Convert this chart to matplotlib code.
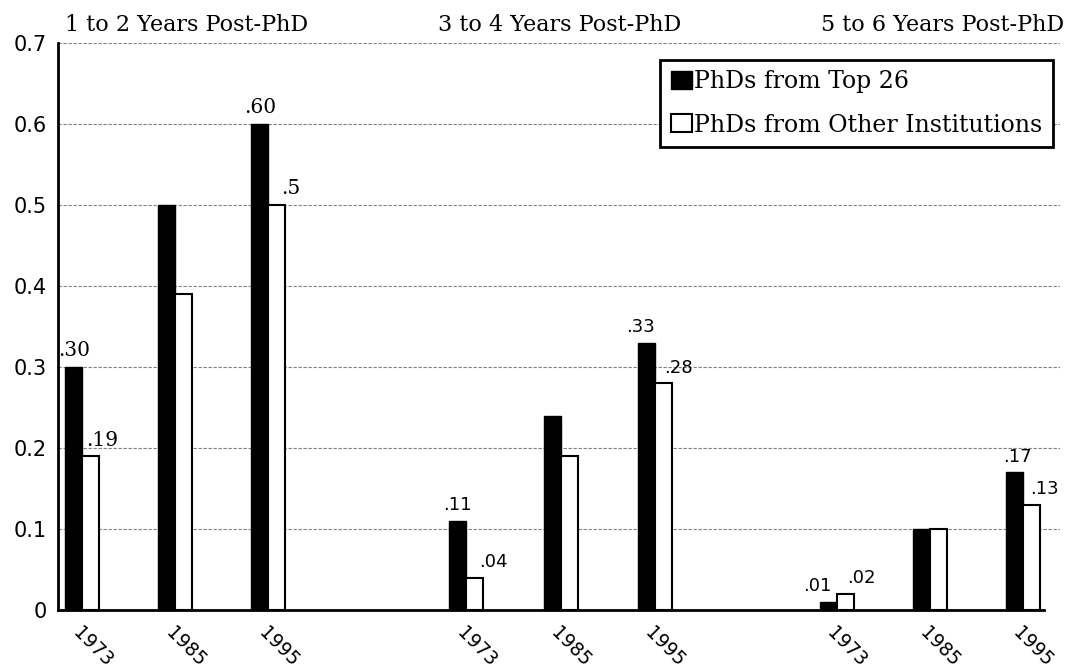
import matplotlib.pyplot as plt

# data
years = ["1973", "1985", "1995"] * 3
groups = ["1 to 2 Years Post-PhD", "3 to 4 Years Post-PhD", "5 to 6 Years Post-PhD"]
top26 = [0.30, 0.50, 0.60, 0.11, 0.24, 0.33, 0.01, 0.10, 0.17]
other = [0.19, 0.39, 0.50, 0.04, 0.19, 0.28, 0.02, 0.10, 0.13]
top26_labels = [".30", None, ".60", ".11", None, ".33", ".01", None, ".17"]
other_labels = [".19", None, ".5", ".04", None, ".28", ".02", None, ".13"]

# layout
pos = [0, 1, 2, 4.13, 5.15, 6.16, 8.12, 9.12, 10.12]
w = 0.18
serif = "DejaVu Serif"
sans = "DejaVu Sans"

fig = plt.figure(figsize=(10.81, 6.72), dpi=100)
ax = fig.add_axes([0.0537, 0.0923, 0.927, 0.844])

ax.bar([p - w / 2 for p in pos], top26, width=w, color="black",
       edgecolor="black", linewidth=1, zorder=3, label="PhDs from Top 26")
ax.bar([p + w / 2 for p in pos], other, width=w, color="white",
       edgecolor="black", linewidth=1.5, zorder=3,
       label="PhDs from Other Institutions")

# value labels (offsets per label, group 1 set in serif like the original)
top_dx = [0.0, 0, 0.0, 0.0, 0, -0.06, -0.12, 0, 0.03]
oth_dx = [0.13, 0, 0.15, 0.2, 0, 0.16, 0.17, 0, 0.14]
for i in range(len(pos)):
    fam = serif if i < 3 else sans
    fs = 14.5 if i < 3 else 13
    if top26_labels[i]:
        ax.text(pos[i] - w / 2 + top_dx[i], top26[i] + 0.008, top26_labels[i],
                ha="center", va="bottom", fontsize=fs, family=fam, zorder=4)
    if other_labels[i]:
        ax.text(pos[i] + w / 2 + oth_dx[i], other[i] + 0.008, other_labels[i],
                ha="center", va="bottom", fontsize=fs, family=fam, zorder=4)

ax.set_ylim(0, 0.7)
ax.set_xlim(-0.26, 10.52)
ax.set_yticks([0, 0.1, 0.2, 0.3, 0.4, 0.5, 0.6, 0.7])
ax.set_yticklabels(["0", "0.1", "0.2", "0.3", "0.4", "0.5", "0.6", "0.7"],
                   fontsize=15, family=sans)
ax.tick_params(axis="y", length=0, pad=8)
ax.set_xticks(pos)
ax.set_xticklabels(years, rotation=-45, ha="left", va="top",
                   rotation_mode="anchor", fontsize=13.5, family=sans)
ax.tick_params(axis="x", length=0, pad=10)

for y in [0.1, 0.2, 0.3, 0.4, 0.5, 0.6, 0.7]:
    ax.axhline(y, color="0.5", lw=0.8, ls=(0, (3, 1.5)), zorder=1)

ax.spines["top"].set_visible(False)
ax.spines["right"].set_visible(False)
ax.spines["left"].set_linewidth(2)
ax.spines["bottom"].set_linewidth(2)
ax.spines["bottom"].set_bounds(-0.26, 10.35)

# group headings
ax.text(-0.18, 0.722, groups[0], ha="left", va="center", fontsize=16,
        family=serif, clip_on=False)
ax.text(5.14, 0.722, groups[1], ha="center", va="center", fontsize=16,
        family=serif, clip_on=False)
ax.text(9.25, 0.722, groups[2], ha="center", va="center", fontsize=16,
        family=serif, clip_on=False)

leg = ax.legend(loc="upper right", bbox_to_anchor=(0.993, 0.970), borderaxespad=0,
                prop={"family": serif, "size": 17}, fancybox=False,
                edgecolor="black", framealpha=1, handlelength=0.9,
                handleheight=0.8, handletextpad=0.1, borderpad=0.45,
                labelspacing=0.85)
leg.get_frame().set_linewidth(2)
leg.set_zorder(5)

fig.savefig("out.png", dpi=100)
